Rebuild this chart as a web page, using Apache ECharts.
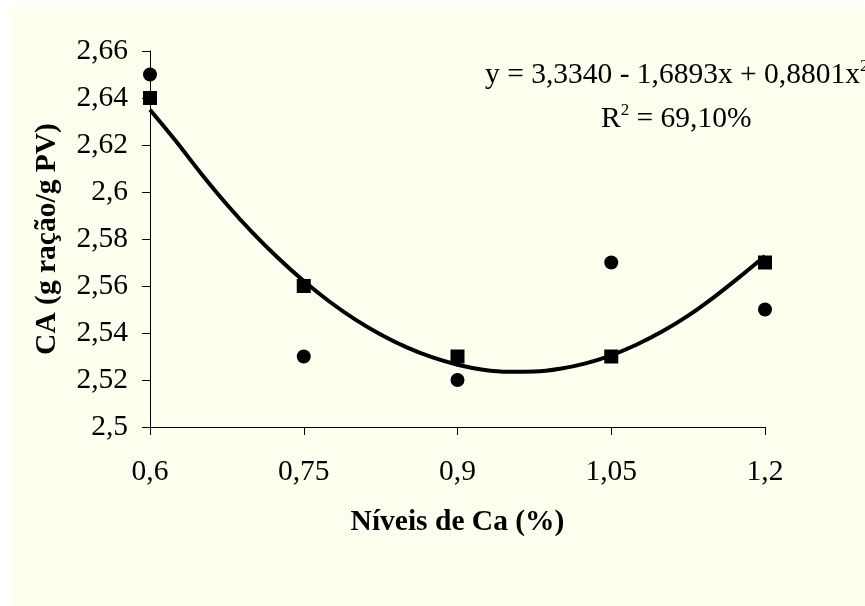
<!DOCTYPE html>
<html><head><meta charset="utf-8">
<script src="https://cdn.jsdelivr.net/npm/echarts@6/dist/echarts.min.js"></script>
<style>html,body{margin:0;padding:0;background:#fff}#c{width:865px;height:606px}</style>
</head><body><div id="c"></div>
<script>
const levels = [0.6, 0.75, 0.9, 1.05, 1.2];
const circleValues = [2.65, 2.53, 2.52, 2.57, 2.55];
const squareValues = [2.64, 2.56, 2.53, 2.53, 2.57];
const curveX = [0.6, 0.625, 0.65, 0.675, 0.7, 0.725, 0.75, 0.775, 0.8, 0.825, 0.85, 0.875, 0.9, 0.925, 0.95, 0.975, 1.0, 1.025, 1.05, 1.075, 1.1, 1.125, 1.15, 1.175, 1.2];
const curveY = [2.6350, 2.6218, 2.6078, 2.5947, 2.5827, 2.5719, 2.5621, 2.5534, 2.5458, 2.5394, 2.5340, 2.5297, 2.5265, 2.5244, 2.5235, 2.5236, 2.5248, 2.5271, 2.5305, 2.5351, 2.5407, 2.5474, 2.5552, 2.5638, 2.5728];
const xTitle = 'Níveis de Ca (%)';
const yTitle = 'CA (g ração/g PV)';

const font = '"Liberation Serif", "Times New Roman", serif';
const fs = 29.5;
const fmt = v => parseFloat(v.toFixed(2)).toString().replace('.', ',');

const chart = echarts.init(document.getElementById('c'), null, {renderer: 'canvas'});
chart.setOption({
  backgroundColor: '#ffffff',
  animation: false,
  graphic: [
    {type: 'rect', z: -10, shape: {x: 9, y: 7, width: 856, height: 599}, style: {fill: '#FFFFF0'}, silent: true},
    {type: 'text', left: 485, top: 58, z: 10, style: {
      text: '{m|y = 3,3340 - 1,6893x + 0,8801x}{s|2}',
      rich: {m: {fontFamily: font, fontSize: fs, fill: '#000', lineHeight: 35},
             s: {fontFamily: font, fontSize: 17, fill: '#000', lineHeight: 19, verticalAlign: 'top'}}
    }},
    {type: 'text', left: 601, top: 102, z: 10, style: {
      text: '{m|R}{s|2}{m| = 69,10%}',
      rich: {m: {fontFamily: font, fontSize: fs, fill: '#000', lineHeight: 35},
             s: {fontFamily: font, fontSize: 17, fill: '#000', lineHeight: 19, verticalAlign: 'top'}}
    }}
  ],
  grid: {left: 150, right: 100, top: 51, bottom: 179, containLabel: false},
  xAxis: {
    type: 'value', min: 0.6, max: 1.2, interval: 0.15,
    name: xTitle, nameLocation: 'middle', nameGap: 80,
    nameTextStyle: {fontFamily: font, fontSize: fs, fontWeight: 'bold', color: '#000'},
    axisLine: {show: true, onZero: false, lineStyle: {color: '#000', width: 1}},
    axisTick: {show: true, inside: false, length: 8, lineStyle: {color: '#000'}},
    axisLabel: {fontFamily: font, fontSize: fs, color: '#000', margin: 30, formatter: fmt},
    splitLine: {show: false}
  },
  yAxis: {
    type: 'value', min: 2.5, max: 2.66, interval: 0.02,
    name: yTitle, nameLocation: 'middle', nameGap: 88, nameRotate: 90,
    nameTextStyle: {fontFamily: font, fontSize: fs, fontWeight: 'bold', color: '#000'},
    axisLine: {show: true, lineStyle: {color: '#000', width: 1}},
    axisTick: {show: true, length: 8, lineStyle: {color: '#000'}},
    axisLabel: {fontFamily: font, fontSize: fs, color: '#000', margin: 22, formatter: fmt},
    splitLine: {show: false}
  },
  series: [
    {type: 'line', data: curveX.map((x, i) => [x, curveY[i]]), smooth: 0.3, showSymbol: false,
     lineStyle: {color: '#000', width: 4}, z: 2, silent: true},
    {type: 'scatter', data: levels.map((x, i) => [x, circleValues[i]]), symbol: 'circle', symbolSize: 14,
     itemStyle: {color: '#000', opacity: 1}, z: 3},
    {type: 'scatter', data: levels.map((x, i) => [x, squareValues[i]]), symbol: 'rect', symbolSize: 14,
     itemStyle: {color: '#000', opacity: 1}, z: 3}
  ]
});
</script>
</body></html>
